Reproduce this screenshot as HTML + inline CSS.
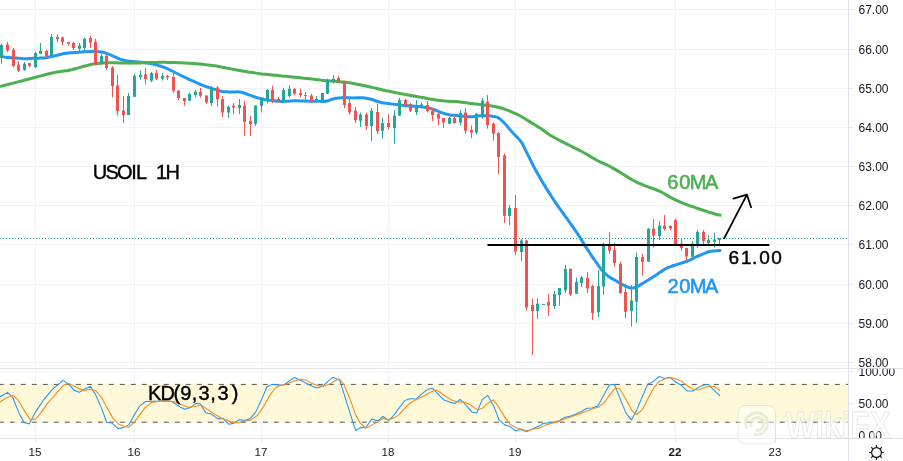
<!DOCTYPE html>
<html lang="en"><head><meta charset="utf-8"><title>USOIL 1H</title>
<style>html,body{margin:0;padding:0;background:#fff;}body{width:903px;height:461px;overflow:hidden;}svg{display:block;will-change:transform;}text{font-family:'Liberation Sans', sans-serif;}</style></head><body>
<svg width="903" height="461" viewBox="0 0 903 461">
<rect width="903" height="461" fill="#fff"/>
<path d="M35.5 0V438M134.5 0V438M261.5 0V438M388.5 0V438M515.5 0V438M675.5 0V438M775.5 0V438M0 9.5H848.5M0 49.5H848.5M0 88.5H848.5M0 127.5H848.5M0 166.5H848.5M0 205.5H848.5M0 244.5H848.5M0 284.5H848.5M0 323.5H848.5M0 362.5H848.5M0 371.5H848.5M0 403.5H848.5M0 435.5H848.5" stroke="#f0f3fa" stroke-width="1" fill="none"/>
<rect x="0" y="384.4" width="848.5" height="37.8" fill="#fff8d2" fill-opacity="0.85"/>
<path d="M-1.2 384.4H848.5 M-1.2 422.2H848.5" stroke="#55554c" stroke-width="1" stroke-dasharray="5 6" fill="none"/>
<path d="M0 238.5H848.5" stroke="#26a69a" stroke-width="1" stroke-dasharray="1 2" fill="none"/>
<path d="M0 56.25C0.5 56.33 2 56.59 3 56.75C4 56.91 5 57.09 6 57.22C7 57.36 8 57.48 9 57.57C10 57.67 11 57.73 12 57.8C13 57.87 14 57.93 15 58C16 58.08 17 58.15 18 58.23C19 58.3 20 58.38 21 58.45C22 58.52 23 58.6 24 58.63C25 58.66 26 58.65 27 58.63C28 58.61 29 58.55 30 58.5C31 58.45 32 58.4 33 58.35C34 58.31 35 58.27 36 58.23C37 58.2 38 58.18 39 58.15C40 58.12 41 58.12 42 58.07C43 58.03 44 58.02 45 57.9C46 57.77 47 57.53 48 57.32C49 57.12 50 56.88 51 56.65C52 56.42 53 56.2 54 55.97C55 55.73 56 55.49 57 55.25C58 55 59 54.74 60 54.5C61 54.26 62 53.99 63 53.78C64 53.57 65 53.37 66 53.24C67 53.1 68 53.04 69 52.95C70 52.87 71 52.8 72 52.72C73 52.65 74 52.58 75 52.5C76 52.42 77 52.35 78 52.27C79 52.2 80 52.12 81 52.05C82 51.98 83 51.9 84 51.83C85 51.77 86 51.71 87 51.65C88 51.6 89 51.55 90 51.5C91 51.45 92 51.39 93 51.38C94 51.36 95 51.36 96 51.4C97 51.45 98 51.54 99 51.65C100 51.76 101 51.85 102 52.05C103 52.25 104 52.55 105 52.86C106 53.16 107 53.5 108 53.86C109 54.23 110 54.62 111 55.06C112 55.5 113 56.02 114 56.5C115 56.98 116 57.5 117 57.93C118 58.36 119 58.72 120 59.07C121 59.42 122 59.76 123 60.04C124 60.33 125 60.59 126 60.77C127 60.95 128 61.04 129 61.15C130 61.26 131 61.35 132 61.45C133 61.55 134 61.65 135 61.74C136 61.82 137 61.9 138 61.97C139 62.05 140 62.12 141 62.2C142 62.28 143 62.35 144 62.47C145 62.59 146 62.75 147 62.92C148 63.09 149 63.3 150 63.5C151 63.7 152 63.9 153 64.12C154 64.34 155 64.57 156 64.83C157 65.1 158 65.41 159 65.7C160 66 161 66.28 162 66.6C163 66.92 164 67.2 165 67.6C166 68 167 68.52 168 69C169 69.48 170 70 171 70.5C172 71 173 71.5 174 72C175 72.5 176 73 177 73.5C178 74 179 74.5 180 75C181 75.5 182 76 183 76.49C184 76.98 185 77.46 186 77.93C187 78.4 188 78.85 189 79.3C190 79.75 191 80.2 192 80.65C193 81.1 194 81.55 195 81.99C196 82.42 197 82.85 198 83.27C199 83.7 200 84.13 201 84.55C202 84.97 203 85.4 204 85.79C205 86.19 206 86.55 207 86.9C208 87.25 209 87.59 210 87.9C211 88.22 212 88.53 213 88.82C214 89.1 215 89.33 216 89.63C217 89.92 218 90.28 219 90.58C220 90.89 221 91.25 222 91.45C223 91.65 224 91.71 225 91.78C226 91.86 227 91.86 228 91.89C229 91.91 230 91.94 231 91.95C232 91.96 233 91.95 234 91.93C235 91.92 236 91.85 237 91.85C238 91.85 239 91.79 240 91.94C241 92.09 242 92.45 243 92.75C244 93.06 245 93.42 246 93.76C247 94.1 248 94.45 249 94.81C250 95.17 251 95.54 252 95.9C253 96.26 254 96.63 255 96.97C256 97.3 257 97.6 258 97.9C259 98.2 260 98.5 261 98.76C262 99.02 263 99.24 264 99.44C265 99.63 266 99.77 267 99.92C268 100.08 269 100.23 270 100.37C271 100.51 272 100.65 273 100.76C274 100.86 275 100.93 276 101.01C277 101.09 278 101.17 279 101.24C280 101.3 281 101.39 282 101.4C283 101.42 284 101.38 285 101.34C286 101.3 287 101.23 288 101.17C289 101.11 290 101.05 291 100.99C292 100.94 293 100.87 294 100.84C295 100.82 296 100.82 297 100.83C298 100.85 299 100.89 300 100.92C301 100.95 302 100.98 303 101.02C304 101.05 305 101.09 306 101.12C307 101.15 308 101.18 309 101.21C310 101.23 311 101.24 312 101.24C313 101.25 314 101.25 315 101.25C316 101.25 317 101.25 318 101.27C319 101.29 320 101.34 321 101.38C322 101.42 323 101.56 324 101.5C325 101.43 326 101.22 327 100.97C328 100.72 329 100.33 330 100C331 99.67 332 99.29 333 99C334 98.71 335 98.44 336 98.27C337 98.1 338 98.04 339 97.95C340 97.86 341 97.79 342 97.73C343 97.66 344 97.58 345 97.57C346 97.57 347 97.65 348 97.7C349 97.75 350 97.84 351 97.87C352 97.9 353 97.91 354 97.89C355 97.88 356 97.82 357 97.77C358 97.73 359 97.66 360 97.65C361 97.64 362 97.61 363 97.71C364 97.8 365 98.02 366 98.2C367 98.38 368 98.59 369 98.8C370 99.02 371 99.2 372 99.49C373 99.77 374 100.16 375 100.52C376 100.88 377 101.32 378 101.65C379 101.99 380 102.31 381 102.53C382 102.75 383 102.86 384 103C385 103.14 386 103.25 387 103.37C388 103.5 389 103.62 390 103.75C391 103.87 392 104 393 104.12C394 104.25 395 104.38 396 104.5C397 104.62 398 104.75 399 104.87C400 104.98 401 105.09 402 105.2C403 105.3 404 105.4 405 105.5C406 105.6 407 105.7 408 105.79C409 105.88 410 105.96 411 106.03C412 106.1 413 106.15 414 106.2C415 106.25 416 106.29 417 106.35C418 106.41 419 106.45 420 106.55C421 106.65 422 106.81 423 106.95C424 107.09 425 107.24 426 107.4C427 107.57 428 107.7 429 107.94C430 108.18 431 108.5 432 108.84C433 109.19 434 109.61 435 110C436 110.39 437 110.81 438 111.2C439 111.59 440 112 441 112.37C442 112.73 443 113.06 444 113.37C445 113.67 446 113.94 447 114.2C448 114.45 449 114.73 450 114.9C451 115.07 452 115.13 453 115.22C454 115.31 455 115.37 456 115.45C457 115.53 458 115.6 459 115.69C460 115.79 461 115.9 462 116.01C463 116.12 464 116.26 465 116.37C466 116.49 467 116.64 468 116.71C469 116.78 470 116.82 471 116.79C472 116.75 473 116.61 474 116.5C475 116.39 476 116.24 477 116.13C478 116.01 479 115.88 480 115.81C481 115.75 482 115.76 483 115.75C484 115.74 485 115.74 486 115.75C487 115.76 488 115.75 489 115.82C490 115.89 491 116.03 492 116.19C493 116.34 494 116.51 495 116.76C496 117 497 117.14 498 117.66C499 118.18 500 119 501 119.86C502 120.72 503 121.77 504 122.81C505 123.85 506 124.99 507 126.11C508 127.24 509 128.43 510 129.57C511 130.7 512 131.86 513 132.93C514 134 515 134.96 516 136C517 137.04 518 137.94 519 139.14C520 140.35 521 141.58 522 143.23C523 144.88 524 147.06 525 149.05C526 151.04 527 153.15 528 155.18C529 157.2 530 159.21 531 161.2C532 163.18 533 165.2 534 167.1C535 168.99 536 170.78 537 172.57C538 174.36 539 176.11 540 177.84C541 179.57 542 181.3 543 182.97C544 184.63 545 186.23 546 187.85C547 189.46 548 191.07 549 192.64C550 194.21 551 195.75 552 197.28C553 198.8 554 200.31 555 201.8C556 203.29 557 204.8 558 206.23C559 207.67 560 209.03 561 210.41C562 211.8 563 213.16 564 214.53C565 215.91 566 217.28 567 218.66C568 220.04 569 221.41 570 222.81C571 224.2 572 225.6 573 227.03C574 228.45 575 229.88 576 231.36C577 232.84 578 234.35 579 235.91C580 237.48 581 239.14 582 240.75C583 242.36 584 244 585 245.58C586 247.16 587 248.69 588 250.23C589 251.77 590 253.31 591 254.81C592 256.31 593 257.79 594 259.24C595 260.68 596 262.08 597 263.48C598 264.88 599 266.31 600 267.63C601 268.96 602 270.32 603 271.43C604 272.54 605 273.41 606 274.3C607 275.19 608 276.07 609 276.79C610 277.51 611 278.05 612 278.62C613 279.18 614 279.64 615 280.2C616 280.76 617 281.37 618 281.97C619 282.56 620 283.21 621 283.77C622 284.34 623 284.86 624 285.37C625 285.87 626 286.39 627 286.81C628 287.24 629 287.71 630 287.9C631 288.1 632 288.14 633 288C634 287.86 635 287.48 636 287.08C637 286.67 638 286.12 639 285.58C640 285.04 641 284.44 642 283.85C643 283.26 644 282.64 645 282.02C646 281.41 647 280.78 648 280.16C649 279.54 650 278.92 651 278.29C652 277.66 653 277.05 654 276.4C655 275.75 656 275.06 657 274.39C658 273.71 659 273 660 272.33C661 271.66 662 271.01 663 270.38C664 269.75 665 269.09 666 268.54C667 267.99 668 267.51 669 267.09C670 266.68 671 266.38 672 266.04C673 265.7 674 265.39 675 265.06C676 264.74 677 264.42 678 264.11C679 263.8 680 263.5 681 263.2C682 262.9 683 262.61 684 262.3C685 261.98 686 261.7 687 261.31C688 260.93 689 260.45 690 259.98C691 259.51 692 259 693 258.5C694 258 695 257.49 696 257C697 256.51 698 256 699 255.54C700 255.09 701 254.67 702 254.27C703 253.87 704 253.5 705 253.13C706 252.76 707 252.36 708 252.05C709 251.75 710 251.47 711 251.29C712 251.11 713 251.07 714 250.98C715 250.9 716 250.85 717 250.78C718 250.72 719.29 250.65 720 250.6C720.71 250.56 721.04 250.52 721.25 250.5" stroke="#2196f3" stroke-width="3" fill="none" stroke-linecap="butt" stroke-linejoin="round"/>
<path d="M0 86.5C0.67 86.33 2.67 85.81 4 85.47C5.33 85.13 6.67 84.79 8 84.44C9.33 84.1 10.67 83.76 12 83.42C13.33 83.07 14.67 82.73 16 82.38C17.33 82.04 18.67 81.69 20 81.35C21.33 81 22.67 80.65 24 80.31C25.33 79.96 26.67 79.61 28 79.26C29.33 78.91 30.67 78.57 32 78.22C33.33 77.87 34.67 77.52 36 77.17C37.33 76.82 38.67 76.46 40 76.11C41.33 75.76 42.67 75.4 44 75.05C45.33 74.7 46.67 74.34 48 74C49.33 73.67 50.67 73.34 52 73.05C53.33 72.76 54.67 72.51 56 72.27C57.33 72.03 58.67 71.83 60 71.62C61.33 71.42 62.67 71.23 64 71.03C65.33 70.82 66.67 70.64 68 70.4C69.33 70.16 70.67 69.91 72 69.61C73.33 69.3 74.67 68.93 76 68.56C77.33 68.19 78.67 67.77 80 67.39C81.33 67 82.67 66.61 84 66.25C85.33 65.89 86.67 65.53 88 65.21C89.33 64.88 90.67 64.57 92 64.31C93.33 64.04 94.67 63.81 96 63.62C97.33 63.42 98.67 63.27 100 63.15C101.33 63.02 102.67 62.94 104 62.87C105.33 62.8 106.67 62.76 108 62.73C109.33 62.7 110.67 62.69 112 62.7C113.33 62.71 114.67 62.74 116 62.77C117.33 62.8 118.67 62.85 120 62.9C121.33 62.94 122.67 62.99 124 63.03C125.33 63.07 126.67 63.1 128 63.12C129.33 63.14 130.67 63.14 132 63.12C133.33 63.11 134.67 63.08 136 63.04C137.33 63.01 138.67 62.96 140 62.92C141.33 62.87 142.67 62.83 144 62.78C145.33 62.74 146.67 62.69 148 62.65C149.33 62.61 150.67 62.56 152 62.52C153.33 62.48 154.67 62.43 156 62.4C157.33 62.36 158.67 62.33 160 62.32C161.33 62.31 162.67 62.32 164 62.33C165.33 62.34 166.67 62.36 168 62.39C169.33 62.41 170.67 62.43 172 62.47C173.33 62.5 174.67 62.54 176 62.59C177.33 62.64 178.67 62.7 180 62.76C181.33 62.82 182.67 62.88 184 62.96C185.33 63.03 186.67 63.1 188 63.18C189.33 63.26 190.67 63.35 192 63.45C193.33 63.54 194.67 63.65 196 63.76C197.33 63.86 198.67 63.97 200 64.09C201.33 64.21 202.67 64.33 204 64.47C205.33 64.6 206.67 64.74 208 64.9C209.33 65.06 210.67 65.23 212 65.42C213.33 65.61 214.67 65.81 216 66.04C217.33 66.26 218.67 66.51 220 66.76C221.33 67.02 222.67 67.29 224 67.55C225.33 67.81 226.67 68.08 228 68.34C229.33 68.59 230.67 68.85 232 69.1C233.33 69.35 234.67 69.6 236 69.85C237.33 70.09 238.67 70.34 240 70.58C241.33 70.82 242.67 71.05 244 71.28C245.33 71.5 246.67 71.72 248 71.93C249.33 72.14 250.67 72.35 252 72.55C253.33 72.75 254.67 72.95 256 73.14C257.33 73.33 258.67 73.51 260 73.68C261.33 73.84 262.67 73.99 264 74.14C265.33 74.28 266.67 74.41 268 74.55C269.33 74.68 270.67 74.82 272 74.95C273.33 75.08 274.67 75.22 276 75.35C277.33 75.48 278.67 75.62 280 75.75C281.33 75.88 282.67 76.02 284 76.15C285.33 76.28 286.67 76.42 288 76.55C289.33 76.68 290.67 76.82 292 76.95C293.33 77.08 294.67 77.22 296 77.35C297.33 77.48 298.67 77.62 300 77.75C301.33 77.89 302.67 78.03 304 78.17C305.33 78.31 306.67 78.46 308 78.61C309.33 78.76 310.67 78.91 312 79.07C313.33 79.22 314.67 79.38 316 79.54C317.33 79.7 318.67 79.87 320 80.03C321.33 80.19 322.67 80.36 324 80.49C325.33 80.63 326.67 80.75 328 80.85C329.33 80.95 330.67 81.02 332 81.11C333.33 81.19 334.67 81.26 336 81.35C337.33 81.45 338.67 81.53 340 81.65C341.33 81.76 342.67 81.89 344 82.04C345.33 82.2 346.67 82.38 348 82.58C349.33 82.78 350.67 83.01 352 83.25C353.33 83.48 354.67 83.73 356 83.98C357.33 84.23 358.67 84.49 360 84.76C361.33 85.03 362.67 85.3 364 85.58C365.33 85.86 366.67 86.15 368 86.44C369.33 86.73 370.67 87.03 372 87.34C373.33 87.65 374.67 87.96 376 88.28C377.33 88.6 378.67 88.93 380 89.25C381.33 89.56 382.67 89.89 384 90.19C385.33 90.5 386.67 90.79 388 91.07C389.33 91.36 390.67 91.62 392 91.9C393.33 92.17 394.67 92.43 396 92.7C397.33 92.97 398.67 93.23 400 93.5C401.33 93.76 402.67 94.02 404 94.27C405.33 94.52 406.67 94.77 408 95.01C409.33 95.25 410.67 95.49 412 95.72C413.33 95.96 414.67 96.19 416 96.43C417.33 96.66 418.67 96.89 420 97.13C421.33 97.37 422.67 97.61 424 97.85C425.33 98.1 426.67 98.36 428 98.61C429.33 98.85 430.67 99.12 432 99.35C433.33 99.58 434.67 99.8 436 99.98C437.33 100.17 438.67 100.33 440 100.48C441.33 100.63 442.67 100.76 444 100.87C445.33 100.99 446.67 101.1 448 101.19C449.33 101.28 450.67 101.35 452 101.42C453.33 101.49 454.67 101.54 456 101.62C457.33 101.7 458.67 101.79 460 101.92C461.33 102.06 462.67 102.24 464 102.42C465.33 102.6 466.67 102.82 468 103.02C469.33 103.21 470.67 103.42 472 103.59C473.33 103.77 474.67 103.92 476 104.08C477.33 104.23 478.67 104.36 480 104.5C481.33 104.65 482.67 104.79 484 104.95C485.33 105.1 486.67 105.27 488 105.44C489.33 105.62 490.67 105.8 492 106.01C493.33 106.23 494.67 106.45 496 106.73C497.33 107.01 498.67 107.33 500 107.7C501.33 108.07 502.67 108.48 504 108.93C505.33 109.37 506.67 109.86 508 110.37C509.33 110.89 510.67 111.44 512 112.01C513.33 112.58 514.67 113.16 516 113.8C517.33 114.43 518.67 115.08 520 115.8C521.33 116.53 522.67 117.34 524 118.14C525.33 118.95 526.67 119.82 528 120.64C529.33 121.47 530.67 122.29 532 123.1C533.33 123.92 534.67 124.69 536 125.51C537.33 126.34 538.67 127.16 540 128.04C541.33 128.93 542.67 129.89 544 130.82C545.33 131.75 546.67 132.74 548 133.64C549.33 134.54 550.67 135.42 552 136.23C553.33 137.04 554.67 137.79 556 138.52C557.33 139.26 558.67 139.95 560 140.64C561.33 141.33 562.67 142.01 564 142.68C565.33 143.36 566.67 144.03 568 144.69C569.33 145.35 570.67 146.01 572 146.66C573.33 147.31 574.67 147.95 576 148.6C577.33 149.26 578.67 149.9 580 150.58C581.33 151.27 582.67 151.96 584 152.71C585.33 153.45 586.67 154.24 588 155.03C589.33 155.83 590.67 156.66 592 157.45C593.33 158.24 594.67 159.03 596 159.75C597.33 160.47 598.67 161.14 600 161.79C601.33 162.44 602.67 163.01 604 163.63C605.33 164.25 606.67 164.85 608 165.51C609.33 166.17 610.67 166.86 612 167.59C613.33 168.31 614.67 169.09 616 169.87C617.33 170.66 618.67 171.47 620 172.3C621.33 173.13 622.67 174 624 174.85C625.33 175.69 626.67 176.56 628 177.37C629.33 178.18 630.67 178.97 632 179.7C633.33 180.44 634.67 181.14 636 181.8C637.33 182.46 638.67 183.08 640 183.67C641.33 184.26 642.67 184.8 644 185.32C645.33 185.85 646.67 186.33 648 186.83C649.33 187.32 650.67 187.79 652 188.28C653.33 188.76 654.67 189.22 656 189.75C657.33 190.28 658.67 190.82 660 191.45C661.33 192.08 662.67 192.8 664 193.53C665.33 194.26 666.67 195.07 668 195.84C669.33 196.6 670.67 197.39 672 198.11C673.33 198.84 674.67 199.54 676 200.18C677.33 200.82 678.67 201.39 680 201.96C681.33 202.53 682.67 203.05 684 203.57C685.33 204.1 686.67 204.6 688 205.09C689.33 205.58 690.67 206.05 692 206.52C693.33 206.98 694.67 207.43 696 207.89C697.33 208.34 698.67 208.79 700 209.23C701.33 209.67 702.67 210.11 704 210.54C705.33 210.97 706.67 211.4 708 211.82C709.33 212.24 710.67 212.65 712 213.04C713.33 213.44 714.67 213.84 716 214.18C717.33 214.52 719.12 214.85 720 215.1C720.88 215.35 721.04 215.6 721.25 215.7" stroke="#4caf50" stroke-width="3" fill="none" stroke-linecap="butt" stroke-linejoin="round"/>
<path d="M1.5 43.7V63.7M24.5 62V70.7M35.5 51.7V68M40.5 43V54M51.5 34V56.7M79.5 43V52M84.5 38V52M101.5 53.7V65M128.5 93V115M134.5 74V96.7M140.5 70.5V79.5M151.5 72V82M162.5 73V80.7M189.5 92.5V100.7M195.5 90V97M211.5 86V105.7M228.5 105.5V118M239.5 99V114M255.5 105.5V126M261.5 97.5V112.5M267.5 89V103.7M283.5 88V102.5M289.5 85V97.5M316.5 96V102M322.5 93V102.5M327.5 78.7V93.7M333.5 75V83.7M360.5 112.5V127M371.5 108V141M382.5 118V138.7M394.5 110V143.7M399.5 98V116M416.5 100V115M421.5 102.5V108.7M449.5 116.7V123.7M460.5 110V125M476.5 113V134.5M482.5 98V118.7M509.5 205V225M521.5 239V261M537.5 298V319M543.5 304V305M554.5 290.7V309M559.5 288V305.7M565.5 265V293M576.5 277.5V294M581.5 276V287M598.5 270.2V317M603.5 242.5V295M631.5 285V326.7M636.5 252.5V323M648.5 228V261.7M659.5 221V240M692.5 241V259.5M697.5 230V248M708.5 235.5V244M714.5 232.5V247.5M719.5 238V244" stroke="#26a69a" stroke-width="1" fill="none"/>
<path d="M7.5 42V52M13.5 48V67.5M18.5 61V72M29.5 63V67.5M46.5 50V57.5M57.5 34.5V42.5M62.5 36.7V45M68.5 42V46M73.5 42V50M90.5 36V48M95.5 38.7V65.5M106.5 55V70M112.5 66V97.5M117.5 75V115.7M123.5 96V123M145.5 68V84.5M156.5 70V80M167.5 75V80M173.5 72V92.5M178.5 90.5V100M184.5 98V105.7M200.5 88V97.5M206.5 95.5V104M217.5 86V106.5M222.5 96V117M233.5 103V114M244.5 100.7V136M250.5 116V136M272.5 85.7V103M278.5 97V102.5M294.5 88V95M300.5 88.7V97.5M305.5 92V103M311.5 93.7V103M338.5 75.7V83M344.5 81V108M349.5 98.7V114.5M355.5 107V123M366.5 112.5V130M377.5 103.7V134M388.5 114V129M405.5 98.7V107.5M410.5 103V112M427.5 101V112.5M432.5 108V121M438.5 112.7V125M443.5 118V128M454.5 116V123.7M465.5 108V133.7M471.5 125.5V138M487.5 95V128.7M493.5 122V140.7M498.5 132V174M504.5 153.7V223M515.5 195V255M526.5 240V310.5M532.5 298.7V355M548.5 294V316M570.5 268.7V296M587.5 272V293M592.5 284.7V320M609.5 232V253.7M614.5 243V266.7M620.5 261.7V293.7M625.5 283.7V318M642.5 253.7V275.7M653.5 219V247.5M664.5 215V230.7M670.5 225.3V230.5M675.5 218.7V245.5M681.5 238.3V250.6M686.5 247.7V260.6M703.5 230V244" stroke="#ef5350" stroke-width="1" fill="none"/>
<path d="M0 45h3v12.5h-3zM23 63.7h3v6.3h-3zM34 53h3v14h-3zM39 50.7h3v3h-3zM50 37h3v19h-3zM78 45.5h3v3.2h-3zM83 38.7h3v9.3h-3zM100 56h3v7.7h-3zM127 96h3v19h-3zM133 75.7h3v21h-3zM139 75h3v2h-3zM150 73h3v7.7h-3zM161 75.7h3v3h-3zM188 94h3v6.7h-3zM194 91.7h3v3.3h-3zM210 88h3v15h-3zM227 106.7h3v5.8h-3zM238 105h3v3h-3zM254 105.5h3v18.2h-3zM260 98.7h3v7.3h-3zM266 90h3v10.7h-3zM282 90h3v12h-3zM288 88.7h3v7.3h-3zM315 99h3v2h-3zM321 93h3v8h-3zM326 80h3v13.7h-3zM332 78.7h3v3.3h-3zM359 114.5h3v6.2h-3zM370 110.7h3v15.3h-3zM381 123h3v7.7h-3zM393 115.5h3v12.5h-3zM398 100h3v15.5h-3zM415 105h3v7h-3zM420 104.5h3v1.5h-3zM448 118h3v5.7h-3zM459 113h3v9.5h-3zM475 113.7h3v18.8h-3zM481 100.5h3v14.5h-3zM508 208h3v8h-3zM520 240.5h3v11.5h-3zM536 303.7h3v7.3h-3zM542 304h3v1h-3zM553 294h3v12h-3zM558 288h3v7h-3zM564 269h3v21.5h-3zM575 282h3v11.7h-3zM580 277.5h3v5.5h-3zM597 286h3v26.3h-3zM602 245.5h3v41h-3zM630 300.5h3v10.5h-3zM635 257h3v44.7h-3zM647 228.7h3v33h-3zM658 225.7h3v10.3h-3zM691 243.7h3v13h-3zM696 232h3v12.5h-3zM707 240h3v3h-3zM713 239.5h3v2.2h-3zM718 238h3v2h-3z" fill="#26a69a"/>
<path d="M6 44.5h3v6h-3zM12 50h3v16h-3zM17 64.5h3v6.2h-3zM28 63h3v2.7h-3zM45 51h3v5h-3zM56 37h3v2h-3zM61 37.5h3v4.5h-3zM67 42h3v1.7h-3zM72 43h3v5h-3zM89 38h3v4.5h-3zM94 42h3v23h-3zM105 55.7h3v12.3h-3zM111 67.5h3v18.5h-3zM116 85.5h3v25.5h-3zM122 110.5h3v4.5h-3zM144 74.5h3v4.5h-3zM155 73h3v5.7h-3zM166 76h3v1.5h-3zM172 77h3v13.7h-3zM177 90.5h3v7.5h-3zM183 98h3v3h-3zM199 92h3v3.7h-3zM205 95.5h3v7h-3zM216 87.5h3v12h-3zM221 99h3v13.5h-3zM232 105.7h3v1.8h-3zM243 105.7h3v16.3h-3zM249 121h3v3h-3zM271 90h3v11h-3zM277 99h3v3h-3zM293 89h3v4.7h-3zM299 93h3v2h-3zM304 95h3v1h-3zM310 95.5h3v5.5h-3zM337 78h3v4.5h-3zM343 82h3v23h-3zM348 103h3v9.5h-3zM354 110.5h3v9.5h-3zM365 114.5h3v11.5h-3zM376 112h3v19h-3zM387 123h3v4h-3zM404 100h3v5.5h-3zM409 104h3v6.7h-3zM426 105h3v6h-3zM431 110.7h3v4.3h-3zM437 114h3v4.7h-3zM442 118h3v4.5h-3zM453 118h3v5h-3zM464 112.5h3v18.2h-3zM470 130h3v2.5h-3zM486 101.7h3v23.3h-3zM492 123.7h3v10h-3zM497 133h3v23.7h-3zM503 155.5h3v60.2h-3zM514 208h3v43.5h-3zM525 240.5h3v67h-3zM531 305h3v6h-3zM547 302h3v3.7h-3zM569 268.7h3v25.8h-3zM586 278h3v10.5h-3zM591 286h3v27h-3zM608 245.5h3v5.2h-3zM613 250h3v13h-3zM619 263.7h3v29.3h-3zM624 292h3v19.7h-3zM641 257h3v4.7h-3zM652 228.7h3v6.8h-3zM663 225.7h3v3.3h-3zM669 226h3v2.5h-3zM674 220.2h3v23.8h-3zM680 243.7h3v4.3h-3zM685 248h3v8.5h-3zM702 232h3v9h-3z" fill="#ef5350"/>
<path d="M487.5 244.9H769.3" stroke="#000" stroke-width="2" fill="none"/>
<path d="M724.3 238.2L746.9 194.7M733.4 198.6L746.9 194.7L751.1 207.2" stroke="#000" stroke-width="1.8" fill="none" stroke-linecap="round" stroke-linejoin="miter"/>
<path d="M0 396.93L7.58 392.34L12.97 397.93L18.96 412.89L23.95 422.47L29.33 423.87L34.92 412.89L42.9 400.92L51.88 389.94L62.86 380.37L68.85 384.36L73.84 389.94L79.22 392.34L84.81 388.95L90.2 386.35L95.79 394.93L101.77 408.9L106.76 422.47L111.75 422.87L117.74 428.46L122.73 427.86L128.71 424.87L133.7 415.89L139.69 405.91L145.68 401.52L153.66 401.32L163.64 400.92L171.62 401.52L180 406.91L184.99 409.3L190.98 407.31L195.96 403.31L199.96 403.51L205.94 412.89L210.93 413.89L217.92 418.88L222.9 418.48L228.89 424.27L233.88 423.27L238.87 419.88L244.86 420.28L249.84 418.88L255.83 411.9L261.82 398.92L266.81 386.95L271.8 384.36L277.78 384.96L283.77 384.96L289.76 380.57L294.75 377.57L299.73 379.97L305.72 382.96L311.71 385.95L316.7 387.95L322.68 386.35L328.67 380.57L333.26 377.37L339.65 379.97L345.63 398.92L350.62 414.89L355.61 430.45L360 427.86L365.99 427.26L371.97 418.88L377.96 420.88L382.95 416.49L388.94 420.48L394.92 413.89L399.91 406.91L404.9 400.52L410.89 398.53L415.88 399.32L421.86 393.94L427.85 389.35L432.84 388.55L437.83 393.94L443.81 399.92L449.8 401.92L454.79 403.51L460.18 399.32L465.76 404.91L471.75 411.9L476.74 412.89L482.13 399.92L487.72 395.33L493.7 405.91L499.09 419.88L504.68 424.87L509.67 426.26L515.65 430.85L520.64 429.46L526.63 431.85L532.62 428.86L540 425.86L542.99 423.47L547.98 422.87L552.97 422.47L558.96 420.88L564.94 417.28L569.93 416.29L575.92 413.89L581.91 411.3L586.9 408.3L592.28 407.9L597.87 405.91L603.86 394.93L609.25 384.96L614.43 384.36L619.82 397.93L625.81 412.89L631.4 419.88L636.78 409.9L642.17 396.93L647.76 383.96L652.75 381.96L659.14 376.37L664.72 378.57L669.71 377.37L675.7 381.96L681.69 385.55L687.07 390.94L692.66 390.94L698.65 387.35L703.64 384.96L708.63 384.56L714.61 390.94L720 395.93" stroke="#2196f3" stroke-width="1.05" fill="none" stroke-linejoin="round"/>
<path d="M0 401.92L5.99 397.93L12.97 395.33L17.96 399.92L23.95 409.9L30.33 419.88L35.52 418.88L40.91 412.89L47.89 402.92L55.88 393.94L63.86 384.96L68.85 383.56L75.83 386.95L82.82 390.34L89.8 389.55L95.79 390.54L101.77 397.93L107.76 408.9L112.75 417.88L118.74 424.27L124.72 426.46L128.71 427.26L133.7 422.87L139.69 414.89L145.68 406.91L151.66 402.52L159.65 401.32L169.62 400.92L175.61 401.92L180 403.91L187.98 407.31L194.97 406.51L200.95 404.91L206.94 408.9L212.93 413.29L219.91 417.28L225.9 419.88L231.88 422.27L237.87 422.47L244.86 421.27L250.84 419.88L256.83 415.89L262.82 407.9L268.8 396.93L274.79 388.55L279.78 385.55L285.76 384.56L292.75 381.56L299.73 379.37L305.72 379.97L311.71 383.36L317.69 385.55L323.68 386.35L329.67 383.96L335.65 380.57L339.25 378.97L343.64 383.96L349.62 397.93L355.61 414.89L360 422.87L365.99 428.26L371.97 424.87L377.96 421.87L382.95 418.48L388.94 419.88L393.92 417.88L398.91 414.89L404.9 407.9L410.89 402.52L416.87 399.52L422.86 396.53L429.84 392.54L435.83 389.94L439.82 391.94L445.81 396.53L451.8 399.92L457.78 401.92L463.77 401.92L469.76 404.51L477.74 409.9L482.73 407.9L487.72 403.31L493.3 399.92L498.69 406.91L504.68 416.88L509.67 423.87L515.65 427.46L521.64 429.26L526.63 430.85L532.62 429.26L540 427.86L545.99 424.87L551.97 423.27L557.96 421.87L563.95 419.28L569.93 417.28L575.92 414.89L581.91 412.89L587.89 410.5L593.88 408.5L598.87 406.91L603.86 402.92L609.84 394.93L615.43 387.95L619.82 388.95L625.81 398.92L631.8 410.5L636.78 414.49L642.17 409.9L647.76 398.92L653.75 387.95L659.14 381.36L664.72 378.97L669.71 377.37L675.7 378.97L681.69 381.36L687.67 385.95L692.66 388.95L697.65 389.94L703.64 387.95L709.62 385.95L714.61 386.55L720 390.54" stroke="#f78b1f" stroke-width="1.1" fill="none" stroke-linejoin="round"/>
<rect x="849" y="0" width="54.5" height="461" fill="#fff"/>
<rect x="0" y="438.9" width="903" height="23" fill="#fff"/>
<path d="M848.5 0V461 M0 368.5H903 M0 438.5H903 M848.5 9.5h4.5M848.5 49.5h4.5M848.5 88.5h4.5M848.5 127.5h4.5M848.5 166.5h4.5M848.5 205.5h4.5M848.5 244.5h4.5M848.5 284.5h4.5M848.5 323.5h4.5M848.5 362.5h4.5M848.5 371.5h4.5M848.5 403.5h4.5M35.5 438.5v4.5M134.5 438.5v4.5M261.5 438.5v4.5M388.5 438.5v4.5M515.5 438.5v4.5M675.5 438.5v4.5M775.5 438.5v4.5" stroke="#e0e3eb" stroke-width="1" fill="none"/>
<text x="858.5" y="13.9" font-size="12" fill="#131722">67.00</text>
<text x="858.5" y="53.9" font-size="12" fill="#131722">66.00</text>
<text x="858.5" y="92.9" font-size="12" fill="#131722">65.00</text>
<text x="858.5" y="131.9" font-size="12" fill="#131722">64.00</text>
<text x="858.5" y="170.9" font-size="12" fill="#131722">63.00</text>
<text x="858.5" y="209.9" font-size="12" fill="#131722">62.00</text>
<text x="858.5" y="248.9" font-size="12" fill="#131722">61.00</text>
<text x="858.5" y="288.9" font-size="12" fill="#131722">60.00</text>
<text x="858.5" y="327.9" font-size="12" fill="#131722">59.00</text>
<text x="858.5" y="366.9" font-size="12" fill="#131722">58.00</text>
<clipPath id="kp"><rect x="849" y="368.8" width="54" height="69.2"/></clipPath>
<g clip-path="url(#kp)"><text x="858.5" y="375.7" font-size="12" fill="#131722">100.00</text><text x="858.5" y="407.9" font-size="12" fill="#131722">50.00</text><text x="858.5" y="440.3" font-size="12" fill="#131722">0.00</text></g>
<text x="34.9" y="455.8" font-size="11.6" text-anchor="middle" fill="#131722">15</text>
<text x="133.9" y="455.8" font-size="11.6" text-anchor="middle" fill="#131722">16</text>
<text x="260.9" y="455.8" font-size="11.6" text-anchor="middle" fill="#131722">17</text>
<text x="387.9" y="455.8" font-size="11.6" text-anchor="middle" fill="#131722">18</text>
<text x="514.9" y="455.8" font-size="11.6" text-anchor="middle" fill="#131722">19</text>
<text x="674.9" y="455.8" font-size="11.6" text-anchor="middle" fill="#131722" font-weight="bold">22</text>
<text x="774.9" y="455.8" font-size="11.6" text-anchor="middle" fill="#131722">23</text>
<text x="92.68 105.45 117.1 131.25 135.98 147.98 155.93 165.4" y="178.8" font-size="20" fill="#000" stroke="#000" stroke-width="0.4">USOIL 1H</text>
<text x="147.88 160.57 173.62 180.18 191.7 198.55 210.3 217.5 231.78" y="400.2" font-size="20" fill="#000" stroke="#000" stroke-width="0.4">KD(9,3,3)</text>
<text x="667.35 679.3 689.77 704.9" y="188.8" font-size="20" fill="#4caf50" stroke="#4caf50" stroke-width="0.55">60MA</text>
<text x="667.45 679.3 689.77 704.9" y="292.8" font-size="20" fill="#2196f3" stroke="#2196f3" stroke-width="0.55">20MA</text>
<text x="728.58 741.08 752.02 759.3 771.15" y="263.8" font-size="19" fill="#000" stroke="#000" stroke-width="0.45">61.00</text>
<circle cx="876.5" cy="452.5" r="4.9" fill="none" stroke="#131722" stroke-width="1.2"/><path d="M881.7 452.5L883.9 452.5M880.18 456.18L881.73 457.73M876.5 457.7L876.5 459.9M872.82 456.18L871.27 457.73M871.3 452.5L869.1 452.5M872.82 448.82L871.27 447.27M876.5 447.3L876.5 445.1M880.18 448.82L881.73 447.27" stroke="#131722" stroke-width="1.2" fill="none"/>
<g><rect x="738.2" y="405.5" width="37.3" height="38.3" rx="7" fill="#fff" fill-opacity="0.45" stroke="#cfcfcf" stroke-opacity="0.45" stroke-width="1"/><path d="M746.5 428a11 11 0 1 1 8 6.5M751 426a6.5 6.5 0 1 1 6 4.5" fill="none" stroke="#d8d4b8" stroke-opacity="0.45" stroke-width="3" stroke-linecap="round"/><text x="785.8" y="438.4" font-size="36" font-weight="bold" fill="#fff" fill-opacity="0.55" stroke="#c4c4c4" stroke-opacity="0.4" stroke-width="1" textLength="105" lengthAdjust="spacingAndGlyphs">WikiFX</text></g>
</svg></body></html>
